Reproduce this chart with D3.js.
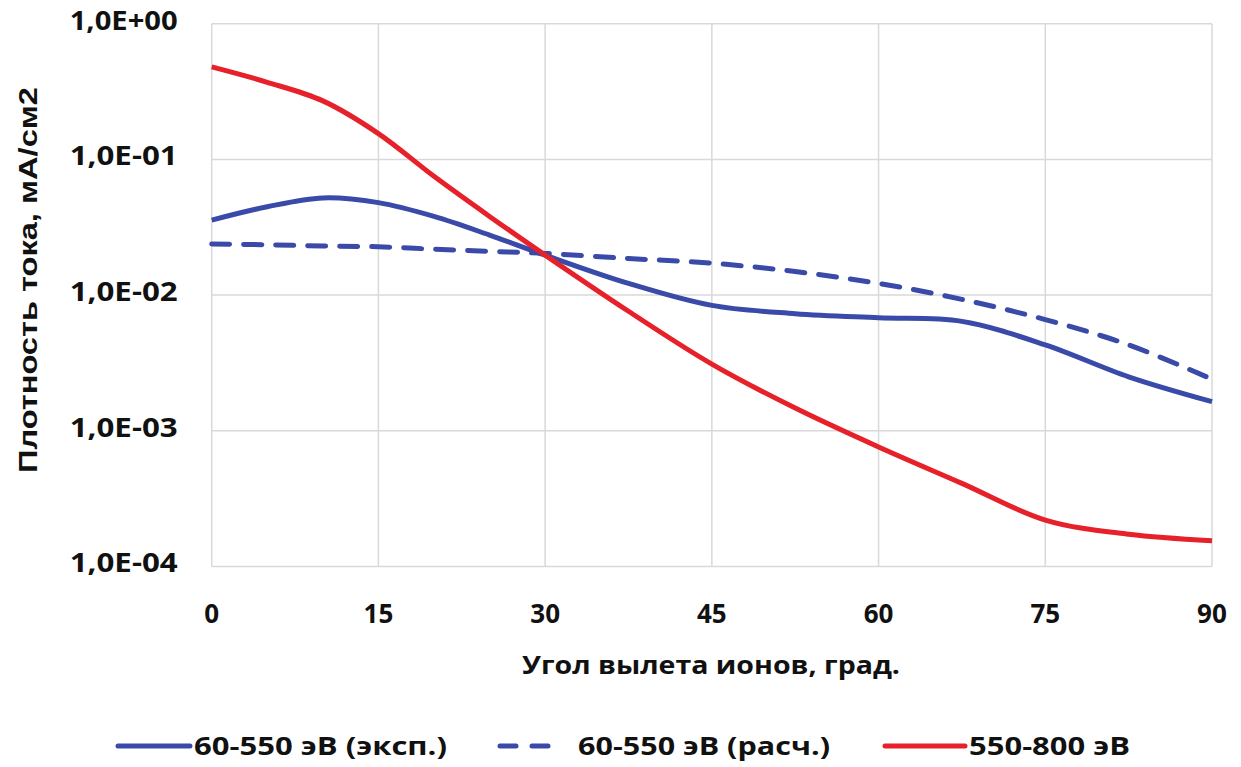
<!DOCTYPE html>
<html>
<head>
<meta charset="utf-8">
<script src="https://cdn.jsdelivr.net/npm/d3@7"></script>
<style>
  body { margin: 0; background: #fff; }
  text { font-family: "Open Sans", sans-serif; font-weight: 700; fill: #111; }
</style>
</head>
<body>
<div id="chart"></div>
<script>
// angles, deg
var angles = [0, 5, 10, 15, 20, 25, 30, 37.5, 45, 52.5, 60, 67.5, 75, 82.5, 90];
// 60-550 eV, experiment
var expValues = [0.0357, 0.0448, 0.052, 0.048, 0.038, 0.0277, 0.0197, 0.0122, 0.0084, 0.0073, 0.0068, 0.0064, 0.0043, 0.0025, 0.00164];
// 60-550 eV, calculated
var calcValues = [0.0238, 0.0235, 0.023, 0.0227, 0.0218, 0.021, 0.0203, 0.0186, 0.0172, 0.0149, 0.0122, 0.0093, 0.0066, 0.0043, 0.0024];
// 550-800 eV
var highValues = [0.48, 0.37, 0.27, 0.155, 0.075, 0.038, 0.0197, 0.0076, 0.0031, 0.00147, 0.00076, 0.00041, 0.00022, 0.000173, 0.000155];

var xTicks = [0, 15, 30, 45, 60, 75, 90];
var yTicks = [1, 0.1, 0.01, 0.001, 0.0001];
var yTickLabels = ["1,0E+00", "1,0E-01", "1,0E-02", "1,0E-03", "1,0E-04"];

var seriesNames = ["60-550 эВ (эксп.)", "60-550 эВ (расч.)", "550-800 эВ"];

var blue = "#3a4aa8", red = "#e62129";

var W = 1241, H = 767;
var margin = { top: 23.7, right: 29, bottom: 200.5, left: 211.7 },
    width = W - margin.left - margin.right,
    height = H - margin.top - margin.bottom;

var svg = d3.select("#chart").append("svg")
    .attr("width", W)
    .attr("height", H);

var g = svg.append("g")
    .attr("transform", "translate(" + margin.left + "," + margin.top + ")");

var x = d3.scaleLinear().domain([0, 90]).range([0, width]);
var y = d3.scaleLog().domain([0.0001, 1]).range([height, 0]);

// grid
g.append("g").selectAll("line").data(yTicks).enter().append("line")
    .attr("x1", 0).attr("x2", width)
    .attr("y1", function (d) { return y(d); })
    .attr("y2", function (d) { return y(d); })
    .attr("stroke", "#d9d9d9").attr("stroke-width", 1.5);
g.append("g").selectAll("line").data(xTicks).enter().append("line")
    .attr("y1", 0).attr("y2", height)
    .attr("x1", function (d) { return x(d); })
    .attr("x2", function (d) { return x(d); })
    .attr("stroke", "#d9d9d9").attr("stroke-width", 1.5);

// y tick labels
g.append("g").selectAll("text").data(yTicks).enter().append("text")
    .attr("x", -34)
    .attr("y", function (d) { return y(d) + 6; })
    .attr("text-anchor", "end")
    .style("font-size", "26px")
    .attr("textLength", 108)
    .attr("lengthAdjust", "spacingAndGlyphs")
    .text(function (d, i) { return yTickLabels[i]; });

// x tick labels
g.append("g").selectAll("text").data(xTicks).enter().append("text")
    .attr("x", function (d) { return x(d); })
    .attr("y", height + 57)
    .attr("text-anchor", "middle")
    .style("font-size", "26px")
    .text(function (d) { return d; });

// axis titles
svg.append("text")
    .attr("x", 711)
    .attr("y", 674)
    .attr("text-anchor", "middle")
    .style("font-size", "25px")
    .attr("textLength", 378)
    .attr("lengthAdjust", "spacingAndGlyphs")
    .text("Угол вылета ионов, град.");

svg.append("text")
    .attr("transform", "translate(37,280) rotate(-90)")
    .attr("text-anchor", "middle")
    .style("font-family", "'Liberation Sans', Arial, sans-serif")
    .style("font-size", "25px")
    .attr("textLength", 386)
    .attr("lengthAdjust", "spacingAndGlyphs")
    .text("Плотность тока, мА/см2");

// lines (smoothed like the spreadsheet chart)
var line = d3.line()
    .x(function (d) { return x(d[0]); })
    .y(function (d) { return y(d[1]); })
    .curve(d3.curveCatmullRom.alpha(0.5));

function pairs(vals) { return angles.map(function (a, i) { return [a, vals[i]]; }); }

g.append("path").datum(pairs(calcValues))
    .attr("fill", "none").attr("stroke", blue).attr("stroke-width", 5)
    .attr("stroke-dasharray", "18,14").attr("stroke-linecap", "round")
    .attr("d", line);
g.append("path").datum(pairs(expValues))
    .attr("fill", "none").attr("stroke", blue).attr("stroke-width", 5)
    .attr("d", line);
g.append("path").datum(pairs(highValues))
    .attr("fill", "none").attr("stroke", red).attr("stroke-width", 5)
    .attr("d", line);

// legend
var legend = [
    { name: seriesNames[0], color: blue, dash: null, x1: 118, x2: 190, tx: 194, tw: 253 },
    { name: seriesNames[1], color: blue, dash: "16,16", x1: 500, x2: 548, tx: 578, tw: 252 },
    { name: seriesNames[2], color: red, dash: null, x1: 885, x2: 965, tx: 969, tw: 161 }
];
var ly = 746;
legend.forEach(function (d) {
    svg.append("line")
        .attr("x1", d.x1).attr("x2", d.x2).attr("y1", ly).attr("y2", ly)
        .attr("stroke", d.color).attr("stroke-width", 5)
        .attr("stroke-linecap", "round")
        .attr("stroke-dasharray", d.dash);
    svg.append("text")
        .attr("x", d.tx).attr("y", ly + 9)
        .style("font-size", "25px")
        .attr("textLength", d.tw)
        .attr("lengthAdjust", "spacingAndGlyphs")
        .text(d.name);
});
</script>
</body>
</html>
